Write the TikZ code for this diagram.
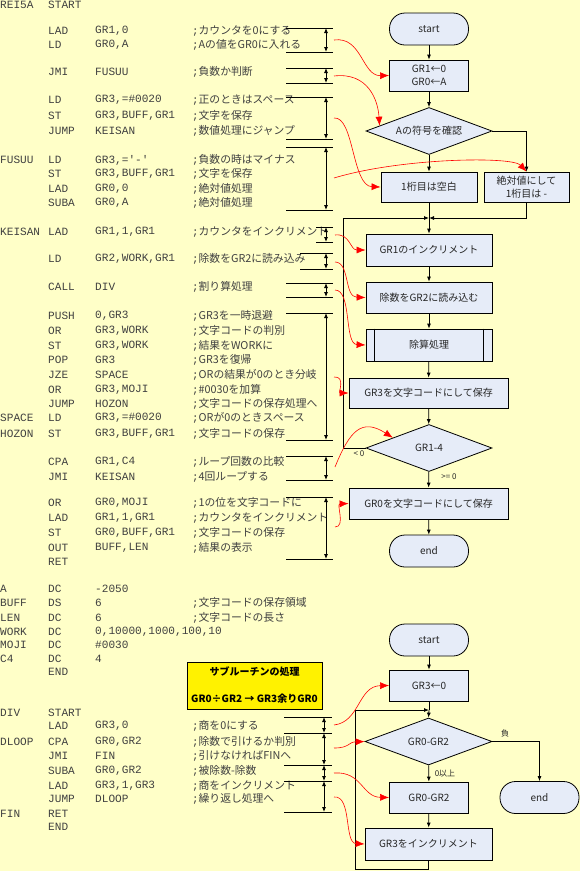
\documentclass[tikz,border=0pt]{standalone}
\usepackage{fontspec}
\setmainfont{Liberation Sans}
\newfontfamily\codefont{Liberation Mono}
\newfontfamily\jpfont{Noto Sans CJK JP}
\usetikzlibrary{arrows.meta,shapes.geometric,calc}
\definecolor{bgyel}{HTML}{FFFFC8}
\definecolor{nodefill}{HTML}{E6ECF8}
\definecolor{codegray}{HTML}{404040}
\tikzset{
 code/.style={anchor=west,inner sep=0pt,text=codegray,font=\codefont\fontsize{11.1}{12}\selectfont},
 cmt/.style={anchor=west,inner sep=0pt,text=codegray,font=\jpfont\fontsize{10.8}{12}\selectfont},
 box/.style={draw,fill=nodefill,line width=0.8pt,inner sep=0pt,font=\jpfont\fontsize{10}{13}\selectfont,align=center,text=black!85},
 proc/.style={box,minimum height=31pt},
 term/.style={box,minimum width=79pt,minimum height=32pt,rounded corners=15.5pt},
 dec/.style={box,diamond,shape aspect=2.7,minimum width=126pt,minimum height=47pt},
 flow/.style={line width=0.8pt,-{Latex[length=5pt,width=4pt]}},
 plain/.style={line width=0.8pt},
 brk/.style={line width=0.8pt},
 brkarr/.style={line width=0.8pt,{Latex[length=5pt,width=4pt]}-{Latex[length=5pt,width=4pt]}},
 redarr/.style={red,line width=0.6pt,-{Latex[length=9pt,width=7pt]}},
 lbl/.style={font=\jpfont\fontsize{8}{9}\selectfont,inner sep=0pt,text=black!85},
}
\newcommand\cl[6]{%
 \node[code] (#1l) at (0,#2) {#3};
 \node[code] (#1o) at (48,#2) {#4};
 \node[code] (#1a) at (95,#2) {#5};
 \if\relax\detokenize{#6}\relax\else\node[cmt] (#1c) at (192,#2) {{\codefont;}#6};\fi
}
\newcommand\brk[5]{%
 \draw[brk] (#3,#1) -- (#4,#1) (#3,#2) -- (#4,#2);
 \draw[brkarr] (#5,#1) -- (#5,#2);
}
\begin{document}
\begin{tikzpicture}[x=1pt,y=-1pt]
\fill[bgyel] (0,0) rectangle (580,871);
\useasboundingbox (0,0) rectangle (580,871);

% ---------- listing ----------
\cl{r0}{5}{REI5A}{START}{}{}
\cl{r1}{31}{}{LAD}{GR1,0}{カウンタを0にする}
\cl{r2}{45}{}{LD}{GR0,A}{Aの値をGR0に入れる}
\cl{r3}{72}{}{JMI}{FUSUU}{負数か判断}
\cl{r4}{100}{}{LD}{GR3,=\#0020}{正のときはスペース}
\cl{r5}{116}{}{ST}{GR3,BUFF,GR1}{文字を保存}
\cl{r6}{131}{}{JUMP}{KEISAN}{数値処理にジャンプ}
\cl{r7}{160}{FUSUU}{LD}{GR3,=\textquotesingle-\textquotesingle}{負数の時はマイナス}
\cl{r8}{174}{}{ST}{GR3,BUFF,GR1}{文字を保存}
\cl{r9}{189}{}{LAD}{GR0,0}{絶対値処理}
\cl{r10}{203}{}{SUBA}{GR0,A}{絶対値処理}
\cl{r11}{232}{KEISAN}{LAD}{GR1,1,GR1}{カウンタをインクリメント}
\cl{r12}{259}{}{LD}{GR2,WORK,GR1}{除数をGR2に読み込み}
\cl{r13}{287}{}{CALL}{DIV}{割り算処理}
\cl{r14}{316}{}{PUSH}{0,GR3}{GR3を一時退避}
\cl{r15}{331}{}{OR}{GR3,WORK}{文字コードの判別}
\cl{r16}{346}{}{ST}{GR3,WORK}{結果をWORKに}
\cl{r17}{360}{}{POP}{GR3}{GR3を復帰}
\cl{r18}{375}{}{JZE}{SPACE}{ORの結果が0のとき分岐}
\cl{r19}{390}{}{OR}{GR3,MOJI}{\#0030を加算}
\cl{r20}{404}{}{JUMP}{HOZON}{文字コードの保存処理へ}
\cl{r21}{418}{SPACE}{LD}{GR3,=\#0020}{ORが0のときスペース}
\cl{r22}{434}{HOZON}{ST}{GR3,BUFF,GR1}{文字コードの保存}
\cl{r23}{462}{}{CPA}{GR1,C4}{ループ回数の比較}
\cl{r24}{477}{}{JMI}{KEISAN}{4回ループする}
\cl{r25}{503}{}{OR}{GR0,MOJI}{1の位を文字コードに}
\cl{r26}{518}{}{LAD}{GR1,1,GR1}{カウンタをインクリメント}
\cl{r27}{533}{}{ST}{GR0,BUFF,GR1}{文字コードの保存}
\cl{r28}{548}{}{OUT}{BUFF,LEN}{結果の表示}
\cl{r29}{562}{}{RET}{}{}
\cl{r30}{589}{A}{DC}{-2050}{}
\cl{r31}{603}{BUFF}{DS}{6}{文字コードの保存領域}
\cl{r32}{618}{LEN}{DC}{6}{文字コードの長さ}
\cl{r33}{632}{WORK}{DC}{0,10000,1000,100,10}{}
\cl{r34}{645}{MOJI}{DC}{\#0030}{}
\cl{r35}{659}{C4}{DC}{4}{}
\cl{r36}{672}{}{END}{}{}
\cl{r37}{713}{DIV}{START}{}{}
\cl{r38}{726}{}{LAD}{GR3,0}{商を0にする}
\cl{r39}{742}{DLOOP}{CPA}{GR0,GR2}{除数で引けるか判別}
\cl{r40}{756}{}{JMI}{FIN}{引けなければFINへ}
\cl{r41}{771}{}{SUBA}{GR0,GR2}{被除数-除数}
\cl{r42}{786}{}{LAD}{GR3,1,GR3}{商をインクリメント}
\cl{r43}{799}{}{JUMP}{DLOOP}{繰り返し処理へ}
\cl{r44}{814}{FIN}{RET}{}{}
\cl{r45}{827}{}{END}{}{}

% ---------- brackets ----------
\brk{28}{52}{286}{333}{326}
\brk{68}{83}{286}{333}{326}
\brk{97}{139}{286}{333}{326}
\brk{147}{210}{286}{333}{326}
\brk{227}{242}{316}{333}{326}
\brk{253}{269}{300}{333}{326}
\brk{283}{297}{286}{333}{326}
\brk{313}{440}{286}{333}{326}
\brk{456}{480}{286}{333}{326}
\brk{497}{559}{286}{333}{326}
\brk{717}{733}{284}{332}{324}
\brk{733}{765}{284}{332}{324}
\brk{765}{781}{284}{332}{324}
\brk{781}{812}{284}{332}{324}

% ---------- main flowchart ----------
\node[term] (st1) at (429,29) {start};
\node[proc,minimum width=79pt] (init) at (429,75.5) {GR1←0\\GR0←A};
\node[dec] (dsign) at (429,131) {Aの符号を確認};
\node[proc,minimum width=96pt,minimum height=30pt] (blank) at (429,187) {1桁目は空白};
\node[proc,minimum width=85pt,minimum height=30pt] (minus) at (526.5,187) {絶対値にして\\1桁目は -};
\coordinate (j1) at (429,218);
\node[proc,minimum width=126pt,minimum height=32pt] (inc) at (429,250) {GR1のインクリメント};
\node[proc,minimum width=126pt] (ld2) at (429,297.5) {除数をGR2に読み込む};
\node[proc,minimum width=126pt,minimum height=32pt] (divp) at (429,345) {除算処理};
\draw[plain] ($(divp.north west)+(9,0)$) -- ($(divp.south west)+(9,0)$);
\draw[plain] ($(divp.north east)+(-9,0)$) -- ($(divp.south east)+(-9,0)$);
\node[proc,minimum width=159pt,minimum height=30pt] (tochr) at (428.5,393) {GR3を文字コードにして保存};
\node[dec] (cmp) at (429,448) {GR1-4};
\node[proc,minimum width=159pt,minimum height=31pt] (last) at (428.5,503.5) {GR0を文字コードにして保存};
\node[term] (end1) at (429,551) {end};

\draw[flow] (st1) -- (init);
\draw[flow] (init) -- (dsign);
\draw[flow] (dsign) -- (blank);
\draw[flow] (dsign.east) -| (minus.north);
\draw[plain] (blank) -- (j1);
\draw[flow] (minus.south) |- (j1);
\draw[flow] (cmp.west) -- ++(-22,0) |- (j1);
\draw[flow] (j1) -- (inc);
\draw[flow] (inc) -- (ld2);
\draw[flow] (ld2) -- (divp);
\draw[flow] (divp) -- (tochr);
\draw[flow] (tochr) -- (cmp);
\draw[flow] (cmp) -- (last);
\draw[flow] (last) -- (end1);
\node[lbl] (lt) at (359,454) {< 0};
\node[lbl] (ge) at (449,477) {>= 0};

% ---------- subroutine box ----------
\node[draw,fill=yellow,line width=0.8pt,minimum width=135pt,minimum height=47pt,inner sep=0pt,align=center,font=\jpfont\bfseries\fontsize{10}{13}\selectfont] (subttl) at (254.5,685.5) {サブルーチンの処理\\[14pt]GR0÷GR2 → GR3余りGR0};

% ---------- DIV flowchart ----------
\node[term] (st2) at (429,640) {start};
\node[proc,minimum width=79pt] (g30) at (429,685.5) {GR3←0};
\coordinate (j2) at (429,710);
\node[dec,minimum width=127pt] (dq) at (428.5,741.5) {GR0-GR2};
\node[proc,minimum width=79pt] (sb) at (429,797.5) {GR0-GR2};
\node[term] (end2) at (539.5,797.5) {end};
\node[proc,minimum width=127pt,minimum height=32pt] (inc3) at (428.5,844) {GR3をインクリメント};
\coordinate (lp2) at (355,869);

\draw[flow] (st2) -- (g30);
\draw[plain] (g30) -- (j2);
\draw[flow] (j2) -- (dq.north);
\draw[flow] (dq) -- (sb);
\draw[flow] (dq.east) -| (end2.north);
\draw[flow] (sb) -- (inc3);
\draw[flow] (inc3.south) |- (lp2) |- (j2);
\node[lbl] (neg) at (505,733) {負};
\node[lbl] (ge0) at (445,774) {0以上};

% ---------- red connectors ----------
\coordinate (b1) at (334,40);
\coordinate (b2) at (334,76);
\coordinate (b3) at (334,118);
\coordinate (b4) at (334,178);
\coordinate (b5) at (335,235);
\coordinate (b6) at (335,262);
\coordinate (b7) at (335,290);
\coordinate (b8) at (334,377);
\coordinate (b9) at (335,467);
\coordinate (b10) at (335,527);
\coordinate (b11) at (334,725);
\coordinate (b12) at (334,748);
\coordinate (b13) at (334,773);
\coordinate (b14) at (334,797);
\coordinate (t2) at ($(dsign.west)!0.22!(dsign.north)$);
\coordinate (t9) at ($(cmp.west)!0.43!(cmp.north)$);

\draw[redarr] (b1) .. controls (362,36) and (362,76) .. (init.west);
\draw[redarr] (b2) .. controls (368,72) and (378,100) .. (t2);
\draw[redarr] (b3) .. controls (354,116) and (352,186) .. (blank.west);
\draw[redarr] (b4) .. controls (400,158) and (512,156) .. (minus.north);
\draw[redarr] (b5) .. controls (350,233) and (350,250) .. (inc.west);
\draw[redarr] (b6) .. controls (350,262) and (344,297) .. (ld2.west);
\draw[redarr] (b7) .. controls (352,290) and (344,344) .. (divp.west);
\draw[redarr] (b8) .. controls (346,376) and (338,393) .. (tochr.west);
\draw[redarr] (b9) .. controls (350,430) and (362,418) .. (t9);
\draw[redarr] (b10) .. controls (346,527) and (336,504) .. (last.west);
\draw[redarr] (b11) .. controls (360,722) and (358,686) .. (g30.west);
\draw[redarr] (b12) .. controls (350,748) and (348,742) .. (dq.west);
\draw[redarr] (b13) .. controls (362,771) and (362,797) .. (sb.west);
\draw[redarr] (b14) .. controls (352,795) and (344,843) .. (inc3.west);
\end{tikzpicture}
\end{document}
